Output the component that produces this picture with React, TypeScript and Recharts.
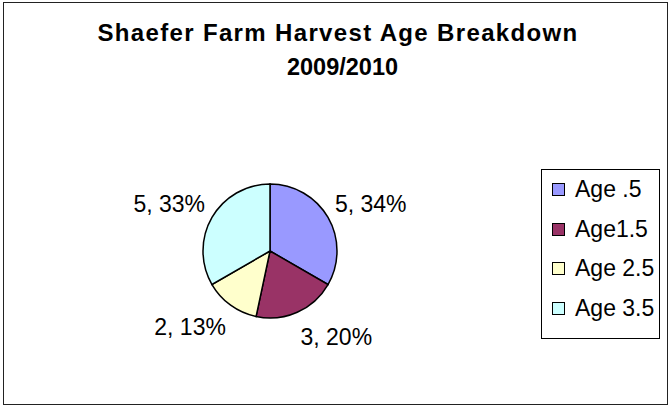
import React from 'react';
import { PieChart, Pie, Cell, Legend } from 'recharts';

const ageNames = ['Age .5', 'Age1.5', 'Age 2.5', 'Age 3.5'];
const harvestCounts = [5, 3, 2, 5];
const percentLabels = ['34%', '20%', '13%', '33%'];
const sliceColors = ['#9999FF', '#993366', '#FFFFCC', '#CCFFFF'];
const titleLines = ['Shaefer Farm Harvest Age Breakdown', '2009/2010'];

const chartData = ageNames.map((name, i) => ({
    name,
    value: harvestCounts[i],
    pct: percentLabels[i],
}));

const RAD = Math.PI / 180;
const FONT = '"Liberation Sans", Arial, sans-serif';

const renderLabel = (props: any) => {
    const { cx, cy, midAngle, outerRadius, index } = props;
    const cos = Math.cos(-midAngle * RAD);
    const sin = Math.sin(-midAngle * RAD);
    const x = cx + (outerRadius + 8) * cos;
    const y = cy + (outerRadius + 27) * sin;
    const d = chartData[index];
    return (
        <text
            x={x}
            y={y}
            fill="#000"
            fontSize={23}
            fontFamily={FONT}
            textAnchor={cos >= 0 ? 'start' : 'end'}
            dominantBaseline="central"
        >
            {`${d.value}, ${d.pct}`}
        </text>
    );
};

// keep the legend in data order (recharts sorts the payload by default)
const renderLegend = () => (
    <div
        style={{
            width: 119,
            height: 170,
            boxSizing: 'border-box',
            border: '1px solid #000',
            background: '#fff',
        }}
    >
        {chartData.map((entry, i) => (
            <div
                key={`leg-${i}`}
                style={{ display: 'flex', alignItems: 'center', height: 39.5, paddingLeft: 10 }}
            >
                <span
                    style={{
                        display: 'inline-block',
                        width: 13,
                        height: 13,
                        boxSizing: 'border-box',
                        border: '1.5px solid #000',
                        background: sliceColors[i],
                        marginRight: 10,
                    }}
                />
                <span style={{ fontFamily: FONT, fontSize: 23, color: '#000' }}>{entry.name}</span>
            </div>
        ))}
    </div>
);

const titleStyle: React.CSSProperties = {
    position: 'absolute',
    left: 0,
    textAlign: 'center',
    fontFamily: FONT,
    fontWeight: 'bold',
    lineHeight: '34px',
    color: '#000',
    whiteSpace: 'nowrap',
};

export default function App() {
    return (
        <div style={{ position: 'absolute', left: 0, top: 0, width: 669, height: 406, background: '#fff' }}>
            <div
                style={{
                    position: 'absolute',
                    left: 3,
                    top: 2,
                    width: 665,
                    height: 403,
                    boxSizing: 'border-box',
                    border: '1.5px solid #222',
                }}
            />
            <div style={{ ...titleStyle, top: 16, width: 676, fontSize: 24, letterSpacing: 1.35 }}>
                {titleLines[0]}
            </div>
            <div style={{ ...titleStyle, top: 50, width: 685, fontSize: 23.5 }}>{titleLines[1]}</div>
            <div style={{ position: 'absolute', left: 0, top: 0 }}>
                <PieChart width={669} height={406} margin={{ top: 0, right: 0, bottom: 0, left: 0 }}>
                    <Pie
                        data={chartData}
                        dataKey="value"
                        nameKey="name"
                        cx={270}
                        cy={251}
                        outerRadius={67}
                        startAngle={90}
                        endAngle={-270}
                        stroke="#000"
                        strokeWidth={1.5}
                        label={renderLabel}
                        labelLine={false}
                        isAnimationActive={false}
                    >
                        {chartData.map((entry, i) => (
                            <Cell key={`cell-${i}`} fill={sliceColors[i]} />
                        ))}
                    </Pie>
                    <Legend
                        content={renderLegend}
                        wrapperStyle={{ position: 'absolute', left: 541, top: 169, width: 119, height: 170 }}
                    />
                </PieChart>
            </div>
        </div>
    );
}
